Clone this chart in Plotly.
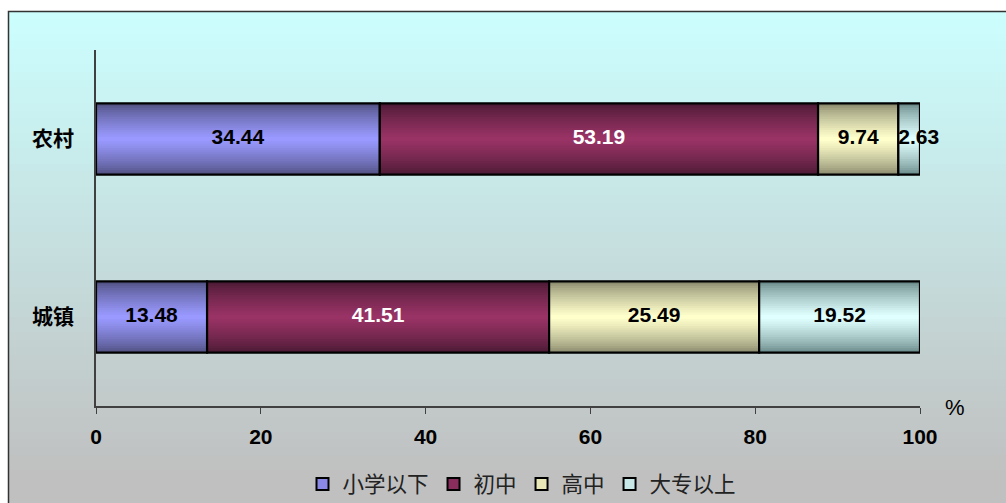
import plotly.graph_objects as go

categories = ["农村", "城镇"]
series_names = ["小学以下", "初中", "高中", "大专以上"]
primary = [34.44, 13.48]
junior = [53.19, 41.51]
senior = [9.74, 25.49]
college = [2.63, 19.52]
series_values = [primary, junior, senior, college]
x_ticks = [0, 20, 40, 60, 80, 100]

# (edge colour, centre colour, label colour)
styles = [
    ((80, 80, 128), (153, 153, 255), "black"),
    ((74, 26, 51), (153, 51, 102), "white"),
    ((138, 138, 110), (255, 255, 204), "black"),
    ((106, 138, 138), (224, 255, 255), "black"),
]

W, H = 1006, 503
L, R, T, B = 96, 86, 50, 97
pw, ph = W - L - R, H - T - B
BAR_W = 0.40


def px2x(px):
    return (px - L) / pw


def py2y(py):
    return (H - B - py) / ph


def mix(a, b, t):
    return "rgb(%d,%d,%d)" % tuple(round(a[i] + (b[i] - a[i]) * t) for i in range(3))


fig = go.Figure()

bases = []
acc = [0.0] * len(categories)
for vals in series_values:
    bases.append(list(acc))
    acc = [a + v for a, v in zip(acc, vals)]

N = 16
for s, vals in enumerate(series_values):
    edge, centre, _ = styles[s]
    for k in range(N):
        w = BAR_W * (1 - k / N)
        t = (k / (N - 1)) ** 0.75
        fig.add_trace(go.Bar(
            y=categories, x=vals, base=bases[s], orientation="h", width=w,
            marker=dict(color=mix(edge, centre, t), line=dict(width=0)),
            showlegend=False, hoverinfo="skip"))
    fig.add_trace(go.Bar(
        y=categories, x=vals, base=bases[s], orientation="h", width=BAR_W,
        marker=dict(color="rgba(0,0,0,0)", line=dict(color="black", width=2.2)),
        showlegend=False, hoverinfo="skip"))

for s, name in enumerate(series_names):
    edge, centre, _ = styles[s]
    fig.add_trace(go.Bar(
        y=[None], x=[None], orientation="h", name=name,
        marker=dict(color=mix(edge, centre, 0.8), line=dict(color="black", width=2))))

# value labels (narrow segments: label starts at the segment start)
for s, vals in enumerate(series_values):
    xs, pos = [], []
    for b, v in zip(bases[s], vals):
        if v < 5:
            xs.append(b)
            pos.append("middle right")
        else:
            xs.append(b + v / 2)
            pos.append("middle center")
    fig.add_trace(go.Scatter(
        x=xs, y=categories, mode="text", text=["%.2f" % v for v in vals], textposition=pos,
        textfont=dict(family="Liberation Sans, Arial", size=21, color=styles[s][2], weight="bold"),
        showlegend=False, hoverinfo="skip", cliponaxis=False))

shapes = []
top_c, bot_c = (204, 255, 255), (192, 192, 192)
y0p, y1p = 11, 470
strips = 60
for i in range(strips):
    a = y0p + (y1p - y0p) * i / strips
    b = y0p + (y1p - y0p) * (i + 1) / strips + 1
    shapes.append(dict(type="rect", xref="paper", yref="paper", layer="below",
                       x0=px2x(8), x1=px2x(1012), y0=py2y(b), y1=py2y(a),
                       fillcolor=mix(top_c, bot_c, (i + 0.5) / strips), line=dict(width=0)))
shapes.append(dict(type="rect", xref="paper", yref="paper", layer="below",
                   x0=px2x(8), x1=px2x(1012), y0=py2y(520), y1=py2y(y1p),
                   fillcolor="rgb(192,192,192)", line=dict(width=0)))
shapes.append(dict(type="rect", xref="paper", yref="paper", layer="above",
                   x0=px2x(8.5), x1=px2x(1012), y0=py2y(520), y1=py2y(11.5),
                   fillcolor="rgba(0,0,0,0)", line=dict(color="#333333", width=1.5)))

fig.update_layout(
    width=W, height=H,
    margin=dict(l=L, r=R, t=T, b=B),
    barmode="overlay",
    paper_bgcolor="white",
    plot_bgcolor="rgba(0,0,0,0)",
    shapes=shapes,
    xaxis=dict(range=[0, 100], tickvals=x_ticks, ticktext=["<b>%d</b>" % v for v in x_ticks],
               showgrid=False, zeroline=False, showline=True, linecolor="#404040", linewidth=1.5,
               ticks="outside", ticklen=6, tickcolor="#404040", ticklabelstandoff=5,
               tickfont=dict(family="Liberation Sans, Arial", size=21, color="black")),
    yaxis=dict(type="category", categoryorder="array", categoryarray=categories[::-1],
               range=[-0.5, 1.5], tickvals=categories, ticktext=["<b>%s</b>" % c for c in categories],
               showgrid=False, zeroline=False, showline=True, linecolor="#404040", linewidth=1.5,
               ticks="", ticklabelstandoff=16,
               tickfont=dict(family="Noto Sans CJK SC", size=21, color="black")),
    legend=dict(orientation="h", xref="container", yref="container",
                x=522 / W, xanchor="center", y=1 - 484 / H, yanchor="middle",
                bgcolor="rgba(0,0,0,0)", font=dict(family="Noto Sans CJK SC", size=21.5, color="#222222"),
                itemwidth=30, traceorder="normal"),
    annotations=[dict(xref="paper", yref="paper", x=px2x(955), y=py2y(408), text="%",
                      xanchor="center", yanchor="middle",
                      showarrow=False, font=dict(family="Liberation Sans, Arial", size=22, color="black"))],
    showlegend=True,
)

fig.write_html("out.html")
